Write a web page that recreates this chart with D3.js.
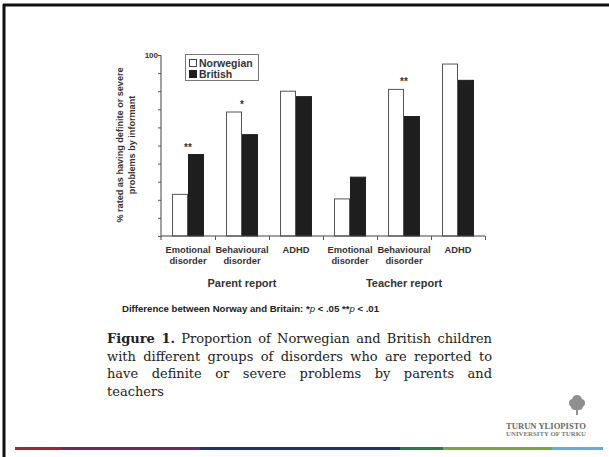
<!DOCTYPE html>
<html><head><meta charset="utf-8">
<script src="https://cdn.jsdelivr.net/npm/d3@7/dist/d3.min.js"></script>
<style>body{margin:0;background:#fff}svg{display:block}</style>
</head><body>
<script>
const categories = ["Emotional|disorder","Behavioural|disorder","ADHD","Emotional|disorder","Behavioural|disorder","ADHD"];
const series = ["Norwegian","British"];
const norwegian = [23, 68.5, 80, 20.5, 81, 95];
const british = [45, 56, 77, 32.5, 66, 86];
const significance = ["**","*","","","**",""];
const groups = ["Parent report","Teacher report"];
const yTicks = [0,10,20,30,40,50,60,70,80,90,100];
const yTickLabels = ["100"];

const W=609,H=457;
const svg=d3.select("body").append("svg").attr("width",W).attr("height",H);
svg.append("rect").attr("width",W).attr("height",H).attr("fill","#fff");

// frame
svg.append("line").attr("x1",3).attr("x2",W).attr("y1",5).attr("y2",5).attr("stroke","#111").attr("stroke-width",3);
svg.append("line").attr("x1",4).attr("x2",4).attr("y1",4).attr("y2",H).attr("stroke","#111").attr("stroke-width",3);

const idx=categories.map((d,i)=>i);
const x0=d3.scaleBand().domain(idx).range([161,485]).padding(0);
const x1=d3.scaleBand().domain(series).range([0,x0.bandwidth()]).paddingInner(0).paddingOuter(0.69);
const y=d3.scaleLinear().domain([0,100]).range([236,55]);

// bars
const g=svg.append("g");
idx.forEach(i=>{
  const vals=[norwegian[i],british[i]];
  series.forEach((s,j)=>{
    g.append("rect").attr("x",x0(i)+x1(s)+0.5).attr("y",y(vals[j]))
     .attr("width",x1.bandwidth()-1).attr("height",y(0)-y(vals[j]))
     .attr("fill",j===0?"#fff":"#1f1e1e").attr("stroke",j===0?"#555":"#1f1e1e").attr("stroke-width",1);
  });
  if(significance[i]){
    g.append("text").attr("x",x0(i)+x0.bandwidth()/2).attr("y",y(Math.max(...vals))-4)
     .attr("text-anchor","middle").attr("font-family","Liberation Sans, Arial").attr("font-weight","bold")
     .attr("font-size",10).attr("fill","#333").text(significance[i]);
  }
});

// axes
const yAxis=d3.axisLeft(y).tickValues(yTicks).tickSize(3).tickFormat(d=>yTickLabels.includes(String(d))?String(d):"");
const ya=svg.append("g").attr("transform","translate(161,0)").call(yAxis);
ya.select(".domain").attr("stroke","#444").attr("d","M-0,55V240");
ya.selectAll(".tick line").attr("stroke","#555");
ya.selectAll("text").attr("font-family","Liberation Sans, Arial").attr("font-weight","bold").attr("font-size",8).attr("fill","#333").attr("x",-3);

const xb=d3.scaleLinear().domain([0,6]).range([161,485]);
const xAxis=d3.axisBottom(xb).tickValues([1,2,3,4,5,6]).tickSize(4).tickFormat("");
const xa=svg.append("g").attr("transform","translate(0,236)").call(xAxis);
xa.select(".domain").attr("stroke","#444").attr("d","M161,0H485");
xa.selectAll(".tick line").attr("stroke","#555");

// category labels
idx.forEach(i=>{
  const parts=categories[i].split("|");
  const t=svg.append("text").attr("x",x0(i)+x0.bandwidth()/2).attr("y",252.5).attr("text-anchor","middle")
    .attr("font-family","Liberation Sans, Arial").attr("font-weight","bold").attr("font-size",9.3).attr("fill","#333");
  parts.forEach((p,k)=>t.append("tspan").attr("x",x0(i)+x0.bandwidth()/2).attr("dy",k?11.5:0).text(p));
});
groups.forEach((gname,k)=>{
  svg.append("text").attr("x",x0(k*3+1)+x0.bandwidth()/2).attr("y",287).attr("text-anchor","middle")
    .attr("font-family","Liberation Sans, Arial").attr("font-weight","bold").attr("font-size",11).attr("fill","#333").text(gname);
});

// y label
const yl=svg.append("text").attr("transform","translate(123,145) rotate(-90)").attr("text-anchor","middle")
  .attr("font-family","Liberation Sans, Arial").attr("font-weight","bold").attr("font-size",9.1).attr("fill","#333");
yl.append("tspan").attr("x",0).attr("dy",0).text("% rated as having definite or severe");
yl.append("tspan").attr("x",0).attr("dy",11.5).text("problems by informant");

// legend
const lg=svg.append("g");
lg.append("rect").attr("x",185.5).attr("y",54.5).attr("width",73).attr("height",26).attr("fill","#fff").attr("stroke","#777");
series.forEach((s,j)=>{
  lg.append("rect").attr("x",189.5).attr("y",59.5+j*11).attr("width",7).attr("height",7)
    .attr("fill",j===0?"#fff":"#1f1e1e").attr("stroke",j===0?"#444":"#1f1e1e");
  lg.append("text").attr("x",199).attr("y",66.5+j*11).attr("font-family","Liberation Sans, Arial")
    .attr("font-weight","bold").attr("font-size",10.5).attr("fill","#333").text(s);
});

// note
const note=svg.append("text").attr("x",122).attr("y",312).attr("font-family","Liberation Sans, Arial")
  .attr("font-weight","bold").attr("font-size",9.6).attr("fill","#222");
note.append("tspan").text("Difference between Norway and Britain: *");
note.append("tspan").attr("font-style","italic").attr("font-weight","normal").text("p");
note.append("tspan").text(" < .05 **");
note.append("tspan").attr("font-style","italic").attr("font-weight","normal").text("p");
note.append("tspan").text(" < .01");

// caption (justified by word spacing)
const capLines=[
  [["Figure 1.",true],[" Proportion of Norwegian and British children",false]],
  [["with different groups of disorders who are reported to",false]],
  [["have definite or severe problems by parents and",false]],
  [["teachers",false]]
];
const capWidth=385;
capLines.forEach((ln,k)=>{
  const t=svg.append("text").attr("x",107).attr("y",343+k*17.5).attr("font-family","DejaVu Serif, serif")
    .attr("font-size",13).attr("fill","#222");
  ln.forEach(([s,b])=>t.append("tspan").attr("font-weight",b?"bold":"normal").text(s));
  if(k<3){
    const w=t.node().getComputedTextLength();
    const spaces=ln.map(d=>d[0]).join("").split(" ").length-1;
    if(spaces>0) t.attr("word-spacing",(capWidth-w)/spaces);
  }
});

// logo
const lgx=577, lgy=404;
const tree=svg.append("g").attr("fill","#8f8f8f");
[[0,-4,5],[-4,-1,4],[4,-1,4],[-2,2,4],[2,2,4],[0,0,4]].forEach(([dx,dy,r])=>tree.append("circle").attr("cx",lgx+dx).attr("cy",lgy+dy).attr("r",r));
tree.append("rect").attr("x",lgx-1).attr("y",lgy+4).attr("width",2).attr("height",7);
svg.append("text").attr("x",506).attr("y",429).attr("font-family","Liberation Serif, serif").attr("font-weight","bold")
  .attr("font-size",8.5).attr("fill","#6a6a6a").attr("textLength",80).attr("lengthAdjust","spacingAndGlyphs").text("TURUN YLIOPISTO");
svg.append("text").attr("x",506).attr("y",436).attr("font-family","Liberation Serif, serif").attr("font-weight","bold")
  .attr("font-size",5.5).attr("fill","#7a7a7a").attr("textLength",80).attr("lengthAdjust","spacingAndGlyphs").text("UNIVERSITY OF TURKU");

// bottom colour band
const bandSegs=[[15,62,"#b51c2f"],[62,200,"#6b2a66"],[200,400,"#1c3279"],[400,443,"#2d7a45"],[443,552,"#76ab35"],[552,603,"#5ab0e6"]];
bandSegs.forEach(([a,b,c])=>svg.append("rect").attr("x",a).attr("y",447).attr("width",b-a).attr("height",3).attr("fill",c));
</script>
</body></html>
